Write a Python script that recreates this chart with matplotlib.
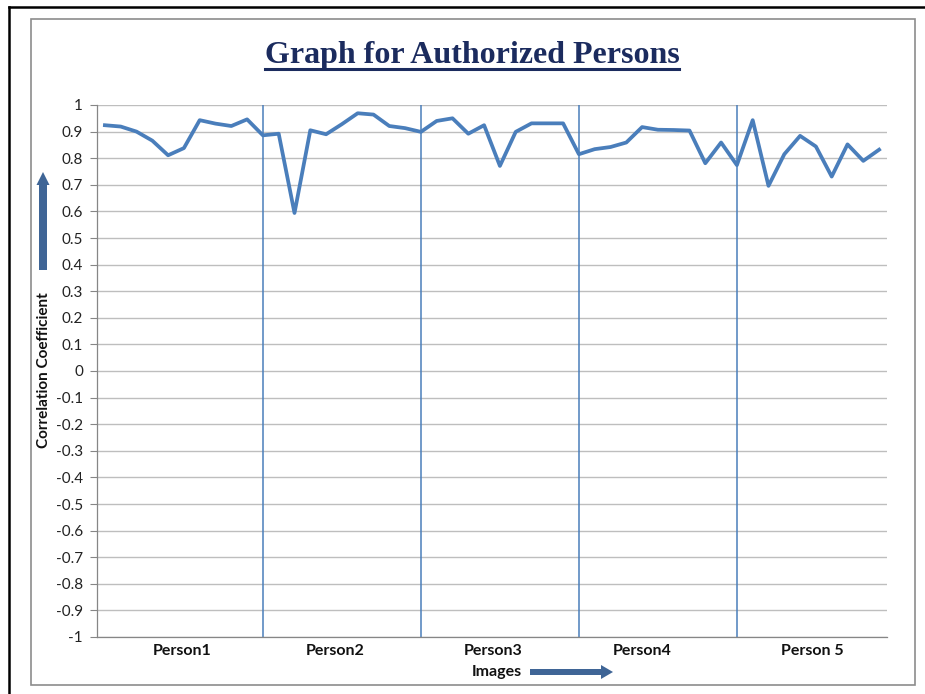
import numpy as np
import matplotlib
matplotlib.use("Agg")
import matplotlib.pyplot as plt
from matplotlib.lines import Line2D
from matplotlib.patches import Rectangle, FancyArrow

plt.rcParams.update({'font.family': ['Lato', 'DejaVu Sans']})

# correlation coefficient for each image (10 images per person)
corr = [0.924, 0.919, 0.900, 0.866, 0.811, 0.838, 0.943, 0.930, 0.921, 0.946,
        0.886, 0.892, 0.594, 0.905, 0.890, 0.928, 0.969, 0.964, 0.921, 0.913,
        0.899, 0.940, 0.950, 0.892, 0.924, 0.771, 0.899, 0.931, 0.931, 0.931,
        0.815, 0.834, 0.842, 0.859, 0.917, 0.907, 0.906, 0.904, 0.781, 0.859,
        0.774, 0.943, 0.696, 0.815, 0.884, 0.844, 0.731, 0.852, 0.790, 0.832]
persons = ["Person1", "Person2", "Person3", "Person4", "Person 5"]
separators = [10, 20, 30, 40]
yticks = np.round(np.arange(-1, 1.001, 0.1), 1)

blue = "#4A7EBB"
navy = "#1B2B5E"
arrow_col = "#3F6596"

fig = plt.figure(figsize=(9.25, 6.94), dpi=100)
W, H = 925, 694

def fx(px):
    return px / W

def fy(py):
    return 1 - py / H

# frame: black outer (top/left only) and grey chart border
fig.add_artist(Line2D([fx(9), 1], [fy(7), fy(7)], color="black", lw=1.8))
fig.add_artist(Line2D([fx(9), fx(9)], [fy(7), 0], color="black", lw=1.8))
fig.add_artist(Rectangle((fx(31), fy(685)), fx(915) - fx(31), fy(19) - fy(685),
                         transform=fig.transFigure, fill=False,
                         edgecolor="#8C8C8C", lw=1.2))

ax = fig.add_axes([fx(97), fy(637), fx(887) - fx(97), fy(105) - fy(637)])

x = np.arange(len(corr))
ax.plot(x, corr, color=blue, lw=2.7, solid_joinstyle="round", zorder=3)
for s in separators:
    ax.axvline(s, color=blue, lw=1.1, zorder=2)

ax.set_xlim(-0.5, len(corr) - 0.5)
ax.set_ylim(-1, 1)
ax.set_yticks(yticks)
ax.set_yticklabels([f"{v + 0:g}" for v in yticks], fontsize=11, color="#222222")
ax.grid(axis="y", color="#BEBEBE", lw=1.0)
ax.set_axisbelow(True)

label_pos = [4.9, 14.6, 24.6, 34.0, 44.8]
ax.set_xticks(label_pos)
ax.set_xticklabels(persons, fontsize=11.5, fontweight="bold", color="#111111")
ax.tick_params(axis="x", length=0, pad=5)
ax.tick_params(axis="y", length=5, color="#868686", pad=5)

for side in ["top", "right"]:
    ax.spines[side].set_visible(False)
for side in ["left", "bottom"]:
    ax.spines[side].set_color("#868686")
    ax.spines[side].set_linewidth(0.9)

# axis labels with arrows
fig.text(fx(44), fy(370), "Correlation Coefficient", rotation=90,
         ha="center", va="center", fontsize=11, fontweight="bold", color="#111111")
fig.add_artist(FancyArrow(fx(43), fy(270), 0, fy(172) - fy(270),
                          width=6 / H, head_width=13 / W, head_length=13 / H,
                          length_includes_head=True, transform=fig.transFigure,
                          color=arrow_col, lw=0))
fig.text(fx(497), fy(672), "Images", ha="center", va="center",
         fontsize=11.5, fontweight="bold", color="#111111")
fig.add_artist(FancyArrow(fx(530), fy(672), fx(613) - fx(530), 0,
                          width=6 / H, head_width=14 / H, head_length=12 / W,
                          length_includes_head=True, transform=fig.transFigure,
                          color=arrow_col, lw=0))

# underlined title
title = fig.text(fx(472), fy(55), "Graph for Authorized Persons", ha="center",
                 va="center", fontsize=23, fontweight="bold",
                 family="Liberation Serif", color=navy)
fig.canvas.draw()
bb = title.get_window_extent(fig.canvas.get_renderer())
bb = bb.transformed(fig.transFigure.inverted())
fig.add_artist(Line2D([bb.x0, bb.x1], [fy(69), fy(69)], color=navy, lw=2.2))

fig.savefig("out.png", dpi=100)
